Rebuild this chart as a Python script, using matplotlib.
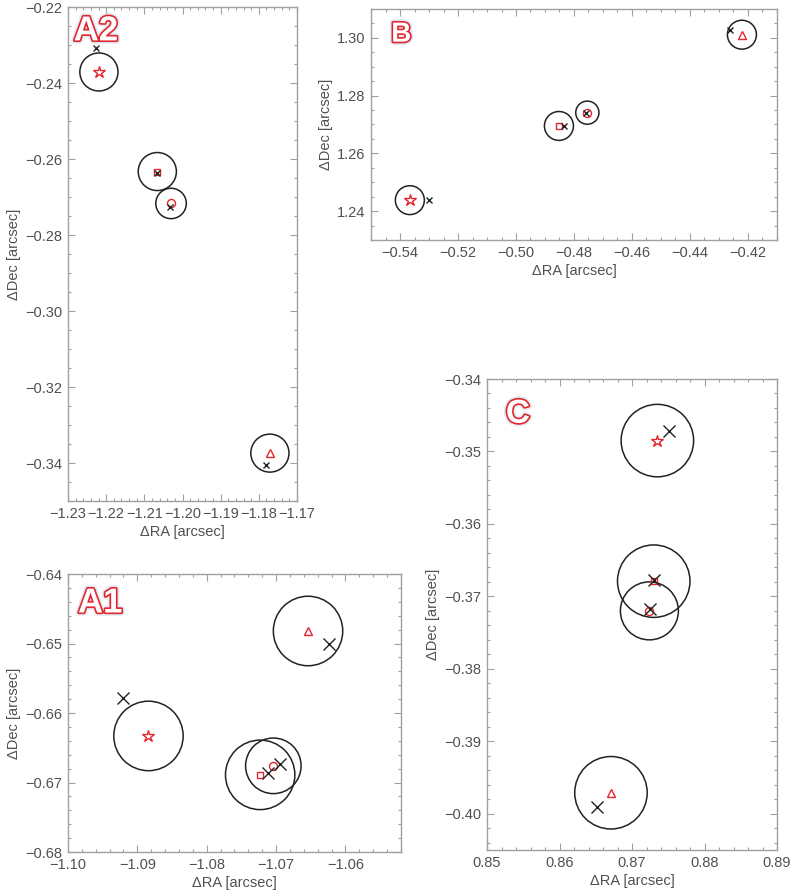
import matplotlib
matplotlib.use('Agg')
import matplotlib.pyplot as plt
import matplotlib.patheffects as pe
from matplotlib.patches import Circle
from matplotlib.ticker import MultipleLocator

plt.rcParams['font.family'] = ['Liberation Sans', 'DejaVu Sans']

# red model markers per panel, order: star, square, circle, triangle
markers = ['*', 's', 'o', '^']
marker_sizes = [9, 4.3, 5.8, 5.2]
radii = [0.005, 0.005, 0.004, 0.005]

a2_ra = [-1.2219, -1.2066, -1.2030, -1.1771]
a2_dec = [-0.2371, -0.2633, -0.2717, -0.3374]
a2_x_ra = [-1.2227, -1.2066, -1.2033, -1.1780]
a2_x_dec = [-0.2309, -0.2636, -0.2727, -0.3405]

b_ra = [-0.5366, -0.4852, -0.4754, -0.4221]
b_dec = [1.2438, 1.2695, 1.2741, 1.3011]
b_x_ra = [-0.5301, -0.4834, -0.4760, -0.4263]
b_x_dec = [1.2438, 1.2694, 1.2739, 1.3027]

a1_ra = [-1.0884, -1.0723, -1.0704, -1.0654]
a1_dec = [-0.6633, -0.6689, -0.6676, -0.6482]
a1_x_ra = [-1.0920, -1.0712, -1.0695, -1.0624]
a1_x_dec = [-0.6578, -0.6686, -0.6674, -0.6500]

c_ra = [0.8735, 0.8730, 0.8724, 0.8671]
c_dec = [-0.3485, -0.3679, -0.3720, -0.3971]
c_x_ra = [0.8751, 0.8730, 0.8725, 0.8652]
c_x_dec = [-0.3472, -0.3678, -0.3718, -0.3990]

RED = '#e3262d'
GRAY = '#a0a0a0'
TXT = '#505050'

W, H = 792, 896
fig = plt.figure(figsize=(W / 100, H / 100), dpi=100)


def px_axes(l, t, r, b):
    return fig.add_axes([l / W, 1 - b / H, (r - l) / W, (b - t) / H])


def panel(ax, ra, dec, x_ra, x_dec, xms, xlim, ylim, xmaj, xmin, ymaj, ymin,
          xfmt, yfmt, name, npos, nsize):
    for i in range(len(ra)):
        ax.add_patch(Circle((ra[i], dec[i]), radii[i], fill=False,
                            edgecolor='#222222', lw=1.1, zorder=2))
        ax.plot(ra[i], dec[i], marker=markers[i], ms=marker_sizes[i],
                mfc='none', mec=RED, mew=1.0, ls='none', zorder=3)
    ax.plot(x_ra, x_dec, 'x', ms=xms, color='#222222', mew=1.0, zorder=4)
    ax.set_xlim(*xlim)
    ax.set_ylim(*ylim)
    ax.xaxis.set_major_locator(MultipleLocator(xmaj))
    ax.xaxis.set_minor_locator(MultipleLocator(xmin))
    ax.yaxis.set_major_locator(MultipleLocator(ymaj))
    ax.yaxis.set_minor_locator(MultipleLocator(ymin))
    ax.xaxis.set_major_formatter(lambda v, p: (xfmt % v).replace('-', '\u2212'))
    ax.yaxis.set_major_formatter(lambda v, p: (yfmt % v).replace('-', '\u2212'))
    ax.tick_params(which='both', direction='in', top=True, right=True,
                   color=GRAY, labelcolor=TXT, labelsize=10.5, width=0.8)
    ax.tick_params(which='major', length=5, pad=4)
    ax.tick_params(which='minor', length=2.5)
    for s in ax.spines.values():
        s.set_color(GRAY)
        s.set_linewidth(1.0)
    ax.set_xlabel('\u0394RA [arcsec]', color=TXT, fontsize=10.5, labelpad=3)
    ax.set_ylabel('\u0394Dec [arcsec]', color=TXT, fontsize=10.5, labelpad=3)
    ax.text(npos[0], npos[1], name, transform=ax.transAxes, ha='left', va='top',
            fontsize=nsize, fontweight='bold', color='white',
            path_effects=[pe.Stroke(linewidth=5, foreground='#d8e6f2', alpha=0.7),
                          pe.Stroke(linewidth=2.4, foreground=RED),
                          pe.Normal()])


ax_a2 = px_axes(68, 7, 297, 501)
panel(ax_a2, a2_ra, a2_dec, a2_x_ra, a2_x_dec, 4.5,
      (-1.23, -1.17), (-0.35, -0.22), 0.01, 0.002, 0.02, 0.005,
      '%.2f', '%.2f', 'A2', (0.025, 0.985), 25)

ax_b = px_axes(371, 9, 777, 240)
panel(ax_b, b_ra, b_dec, b_x_ra, b_x_dec, 4.2,
      (-0.55, -0.41), (1.23, 1.31), 0.02, 0.005, 0.02, 0.005,
      '%.2f', '%.2f', 'B', (0.05, 0.945), 20)

ax_a1 = px_axes(68, 574, 401, 852)
panel(ax_a1, a1_ra, a1_dec, a1_x_ra, a1_x_dec, 8.6,
      (-1.10, -1.052), (-0.68, -0.64), 0.01, 0.002, 0.01, 0.002,
      '%.2f', '%.2f', 'A1', (0.03, 0.955), 25)

ax_c = px_axes(487, 379, 777, 850)
panel(ax_c, c_ra, c_dec, c_x_ra, c_x_dec, 8.2,
      (0.85, 0.89), (-0.405, -0.34), 0.01, 0.002, 0.01, 0.002,
      '%.2f', '%.2f', 'C', (0.065, 0.958), 24)

fig.savefig('out.png', dpi=100)
